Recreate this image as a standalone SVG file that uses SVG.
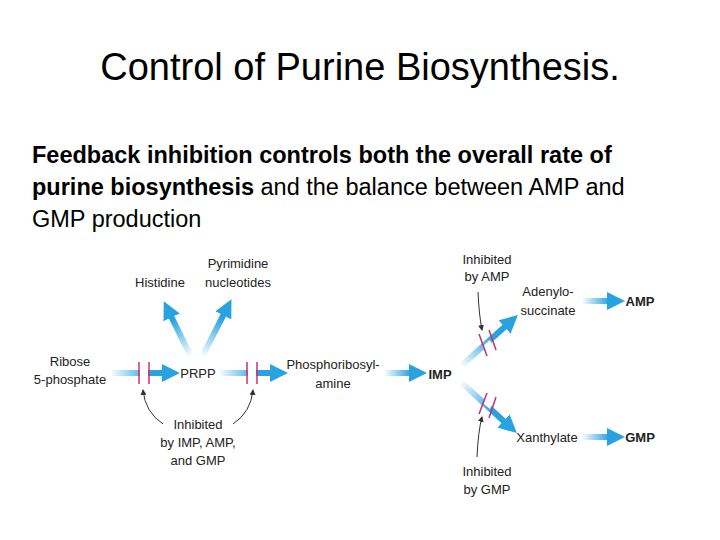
<svg xmlns="http://www.w3.org/2000/svg" width="720" height="540" viewBox="0 0 720 540">
<defs>
<linearGradient id="h1" gradientUnits="userSpaceOnUse" x1="112" y1="0" x2="175" y2="0"><stop offset="0" stop-color="#29a3e0" stop-opacity="0.05"/><stop offset="0.6" stop-color="#29a3e0"/></linearGradient>
<linearGradient id="h2" gradientUnits="userSpaceOnUse" x1="220" y1="0" x2="283" y2="0"><stop offset="0" stop-color="#29a3e0" stop-opacity="0.05"/><stop offset="0.6" stop-color="#29a3e0"/></linearGradient>
<linearGradient id="h3" gradientUnits="userSpaceOnUse" x1="385" y1="0" x2="422" y2="0"><stop offset="0" stop-color="#29a3e0" stop-opacity="0.05"/><stop offset="0.7" stop-color="#29a3e0"/></linearGradient>
<linearGradient id="h4" gradientUnits="userSpaceOnUse" x1="583" y1="0" x2="620" y2="0"><stop offset="0" stop-color="#29a3e0" stop-opacity="0.05"/><stop offset="0.7" stop-color="#29a3e0"/></linearGradient>
<linearGradient id="gu1" gradientUnits="userSpaceOnUse" x1="190" y1="355" x2="165" y2="305"><stop offset="0" stop-color="#29a3e0" stop-opacity="0.05"/><stop offset="0.7" stop-color="#29a3e0"/></linearGradient>
<linearGradient id="gu2" gradientUnits="userSpaceOnUse" x1="203" y1="355" x2="230" y2="303"><stop offset="0" stop-color="#29a3e0" stop-opacity="0.05"/><stop offset="0.7" stop-color="#29a3e0"/></linearGradient>
<linearGradient id="gu3" gradientUnits="userSpaceOnUse" x1="462" y1="365" x2="515" y2="318"><stop offset="0" stop-color="#29a3e0" stop-opacity="0.05"/><stop offset="0.6" stop-color="#29a3e0"/></linearGradient>
<linearGradient id="gu4" gradientUnits="userSpaceOnUse" x1="462" y1="383" x2="514" y2="430"><stop offset="0" stop-color="#29a3e0" stop-opacity="0.05"/><stop offset="0.6" stop-color="#29a3e0"/></linearGradient>
<marker id="bh" markerWidth="3" markerHeight="3" refX="1" refY="1.5" orient="auto" markerUnits="strokeWidth"><path d="M0,0 L3,1.5 L0,3 Z" fill="#29a3e0"/></marker>
<marker id="k" markerWidth="6" markerHeight="6" refX="5" refY="3" orient="auto" markerUnits="userSpaceOnUse"><path d="M0,0 L6,3 L0,6 Z" fill="#333"/></marker>
</defs>
<style>
.t{font-family:"Liberation Sans",Arial,sans-serif;fill:#000}
.s{font-family:"Liberation Sans",Arial,sans-serif;font-size:13px;fill:#222;text-anchor:middle}
.b{font-weight:bold}
.bar{stroke:#c0307a;stroke-width:1.5}
.cv{fill:none;stroke:#333;stroke-width:1}
</style>
<text class="t" x="360" y="80" font-size="38" text-anchor="middle">Control of Purine Biosynthesis.</text>
<text class="t" font-size="23.5"><tspan x="32" y="163" class="b">Feedback inhibition controls both the overall rate of</tspan><tspan x="32" y="195"><tspan class="b">purine biosynthesis</tspan> and the balance between AMP and</tspan><tspan x="32" y="227">GMP production</tspan></text>
<g id="connectors">
<line x1="112" y1="373" x2="168" y2="373" stroke="url(#h1)" stroke-width="6" marker-end="url(#bh)"/>
<line x1="220" y1="373" x2="276" y2="373" stroke="url(#h2)" stroke-width="6" marker-end="url(#bh)"/>
<line x1="385" y1="373" x2="415" y2="373" stroke="url(#h3)" stroke-width="6" marker-end="url(#bh)"/>
<line x1="190" y1="355" x2="169" y2="312" stroke="url(#gu1)" stroke-width="6" marker-end="url(#bh)"/>
<line x1="203" y1="355" x2="226" y2="310" stroke="url(#gu2)" stroke-width="6" marker-end="url(#bh)"/>
<line x1="462" y1="365" x2="509" y2="323" stroke="url(#gu3)" stroke-width="6" marker-end="url(#bh)"/>
<line x1="462" y1="383" x2="508" y2="425" stroke="url(#gu4)" stroke-width="6" marker-end="url(#bh)"/>
<line x1="583" y1="301" x2="613" y2="301" stroke="url(#h4)" stroke-width="6" marker-end="url(#bh)"/>
<line x1="583" y1="437" x2="613" y2="437" stroke="url(#h4)" stroke-width="6" marker-end="url(#bh)"/>
<rect x="140" y="368" width="8" height="10" fill="#fff"/><rect x="248" y="368" width="8" height="10" fill="#fff"/>
<polygon points="483,346 490,340 493,348 486,354" fill="#fff"/>
<polygon points="483,403 490,409 493,401 486,395" fill="#fff"/>
<line class="bar" x1="139" y1="362" x2="139" y2="384"/><line class="bar" x1="149" y1="362" x2="149" y2="384"/>
<line class="bar" x1="247" y1="362" x2="247" y2="384"/><line class="bar" x1="257" y1="362" x2="257" y2="384"/>
<line class="bar" x1="479" y1="334" x2="487" y2="356"/><line class="bar" x1="489" y1="330" x2="496" y2="350"/>
<line class="bar" x1="479" y1="414" x2="487" y2="393"/><line class="bar" x1="489" y1="418" x2="496" y2="397"/>
<path class="cv" d="M163,424 Q145,412 143,390" marker-end="url(#k)"/>
<path class="cv" d="M233,424 Q251,412 253,390" marker-end="url(#k)"/>
<path class="cv" d="M478,292 Q479,315 482,330" marker-end="url(#k)"/>
<path class="cv" d="M477,457 Q478,432 482,417" marker-end="url(#k)"/>
</g>
<g id="n-ribose"><text class="s" x="70" y="366">Ribose</text><text class="s" x="70" y="384">5-phosphate</text></g>
<g id="n-prpp"><text class="s" x="198" y="378">PRPP</text></g>
<g id="n-his"><text class="s" x="160" y="287">Histidine</text></g>
<g id="n-pyr"><text class="s" x="238" y="268">Pyrimidine</text><text class="s" x="238" y="287">nucleotides</text></g>
<g id="n-pra"><text class="s" x="333" y="369">Phosphoribosyl-</text><text class="s" x="333" y="388">amine</text></g>
<g id="n-imp"><text class="s b" x="440" y="379">IMP</text></g>
<g id="n-inh1"><text class="s" x="198" y="429">Inhibited</text><text class="s" x="198" y="447">by IMP, AMP,</text><text class="s" x="198" y="465">and GMP</text></g>
<g id="n-inh2"><text class="s" x="487" y="264">Inhibited</text><text class="s" x="487" y="281">by AMP</text></g>
<g id="n-inh3"><text class="s" x="487" y="476">Inhibited</text><text class="s" x="487" y="494">by GMP</text></g>
<g id="n-ado"><text class="s" x="548" y="296">Adenylo-</text><text class="s" x="548" y="315">succinate</text></g>
<g id="n-xan"><text class="s" x="547" y="442">Xanthylate</text></g>
<g id="n-amp"><text class="s b" x="640" y="306">AMP</text></g>
<g id="n-gmp"><text class="s b" x="640" y="442">GMP</text></g>
</svg>
